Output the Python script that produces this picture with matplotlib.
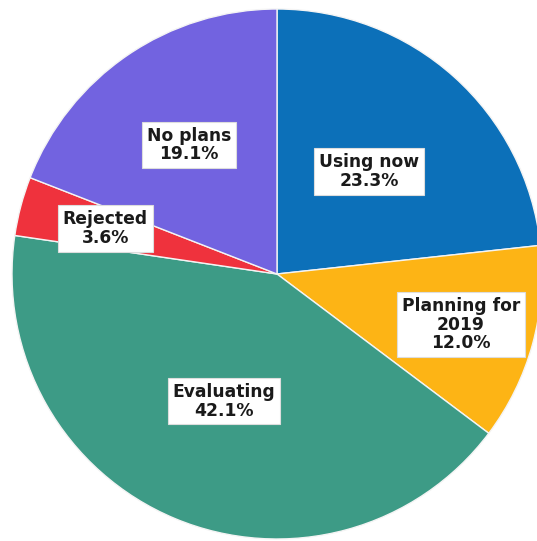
import matplotlib
matplotlib.use("Agg")
import matplotlib.pyplot as plt
import numpy as np

categories = ["Using now", "Planning for\n2019", "Evaluating", "Rejected", "No plans"]
values = [23.3, 12.0, 42.1, 3.6, 19.1]
pct_labels = ["23.3%", "12.0%", "42.1%", "3.6%", "19.1%"]
colors = ["#0c70b9", "#fdb415", "#3d9b86", "#ef323d", "#7263e0"]
label_dist = [0.52, 0.72, 0.52, 0.67, 0.59]

W, H = 537, 541
fig = plt.figure(figsize=(W / 100, H / 100), dpi=100)
ax = fig.add_axes([0, 0, 1, 1])

wedges, _ = ax.pie(values, colors=colors, startangle=90, counterclock=False,
                   radius=1.0, wedgeprops=dict(edgecolor="#f4f4f4", linewidth=1.0))

cx, cy, r = 277, 274, 265
ax.set_xlim(-cx / r, (W - cx) / r)
ax.set_ylim(-(H - cy) / r, cy / r)
ax.set_aspect("equal")
ax.axis("off")

for w, cat, pct, d in zip(wedges, categories, pct_labels, label_dist):
    ang = np.deg2rad((w.theta1 + w.theta2) / 2)
    x, y = d * np.cos(ang), d * np.sin(ang)
    ax.text(x, y, f"{cat}\n{pct}", ha="center", va="center", fontsize=12.3,
            fontweight="bold", color="#1a1a1a", linespacing=1.05,
            bbox=dict(boxstyle="square,pad=0.28", facecolor="white",
                      edgecolor="#dddddd", linewidth=0.8))

fig.savefig("out.png", dpi=100)
